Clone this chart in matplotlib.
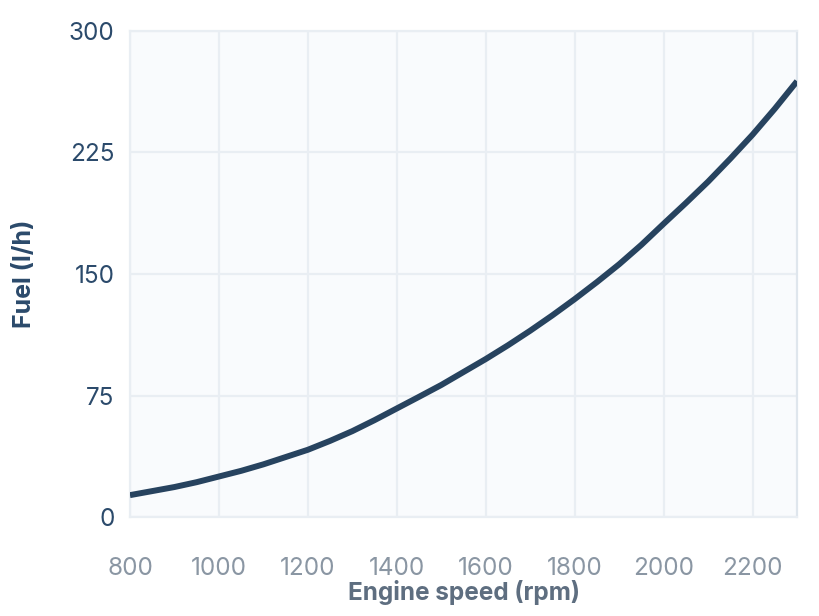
import matplotlib
matplotlib.use("Agg")
import matplotlib.pyplot as plt

# engine speed (rpm) vs fuel consumption (l/h)
rpm = [800, 850, 900, 950, 1000, 1050, 1100, 1150, 1200, 1250, 1300,
       1350, 1400, 1450, 1500, 1550, 1600, 1650, 1700, 1750, 1800,
       1850, 1900, 1950, 2000, 2050, 2100, 2150, 2200, 2250, 2300]
fuel = [13.5, 16, 18.5, 21.5, 25, 28.5, 32.5, 37, 41.5, 47, 53,
        59.8, 67, 74.2, 81.5, 89.5, 97.5, 106, 115, 124.5, 134.5,
        145, 156, 168, 181, 193.8, 207, 221.2, 236, 252, 269]

x_ticks = [800, 1000, 1200, 1400, 1600, 1800, 2000, 2200]
y_ticks = [0, 75, 150, 225, 300]

NAVY = "#2b4a6b"
LINE = "#27435f"
GREY_TICK = "#8a96a3"
GREY_LABEL = "#5e6e80"
GRID = "#e9eef3"
BG = "#f9fbfd"

plt.rcParams["font.family"] = ["Inter", "DejaVu Sans"]

fig = plt.figure(figsize=(8.2, 6.16), dpi=100)
ax = fig.add_axes([0.1585, 0.1607, 0.8135, 0.789])
ax.set_facecolor(BG)

ax.plot(rpm, fuel, color=LINE, linewidth=4.3, solid_capstyle="butt",
        solid_joinstyle="round", zorder=3)

ax.set_xlim(800, 2300)
ax.set_ylim(0, 300)
ax.set_xticks(x_ticks)
ax.set_yticks(y_ticks)
ax.grid(True, color=GRID, linewidth=1.6, zorder=0)
ax.set_axisbelow(True)

for side in ["top", "left", "bottom"]:
    ax.spines[side].set_color(GRID)
    ax.spines[side].set_linewidth(1.6)
ax.spines["right"].set_color("#dfe6ed")
ax.spines["right"].set_linewidth(1.6)

ax.tick_params(axis="x", length=0, pad=29, labelsize=17.5, labelcolor=GREY_TICK)
ax.tick_params(axis="y", length=0, pad=11, labelsize=17.5, labelcolor=NAVY)

ax.set_xlabel("Engine speed (rpm)", fontsize=17.5, fontweight="bold",
              color=GREY_LABEL, labelpad=0)
ax.set_ylabel("Fuel (l/h)", fontsize=18, fontweight="bold",
              color=NAVY, labelpad=24)

fig.savefig("out.png", dpi=100, facecolor="white")
